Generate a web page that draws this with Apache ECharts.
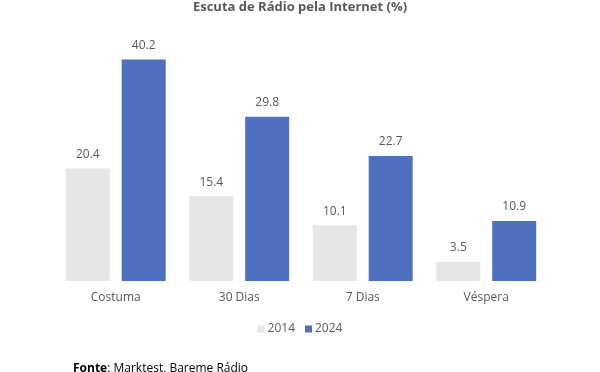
<!DOCTYPE html>
<html><head><meta charset="utf-8">
<script src="https://cdn.jsdelivr.net/npm/echarts@6/dist/echarts.min.js"></script>
<style>html,body{margin:0;padding:0;background:#fff}#c{width:600px;height:372px}</style>
</head><body><div id="c"></div>
<script>
const categories = ['Costuma', '30 Dias', '7 Dias', 'Véspera'];
const values2014 = [20.4, 15.4, 10.1, 3.5];
const values2024 = [40.2, 29.8, 22.7, 10.9];
const seriesNames = ['2014', '2024'];
const titleText = 'Escuta de Rádio pela Internet (%)';

const chart = echarts.init(document.getElementById('c'), null, {renderer: 'canvas'});
const font = 'Open Sans, Liberation Sans, sans-serif';
const txt = '#595959';
chart.setOption({
  animation: false,
  backgroundColor: '#fff',
  title: {
    text: titleText, left: 'center', top: -4,
    textStyle: {fontFamily: font, fontSize: 13, fontWeight: 'bold', color: txt}
  },
  legend: {
    data: seriesNames, left: 'center', top: 318,
    itemWidth: 7, itemHeight: 7, itemGap: 10, icon: 'rect',
    textStyle: {fontFamily: font, fontSize: 12, color: txt, padding: [0, 0, 0, -2]}
  },
  grid: {left: 54, right: 52, top: 33, bottom: 91},
  xAxis: {
    type: 'category', data: categories,
    axisLine: {show: false}, axisTick: {show: false},
    axisLabel: {fontFamily: font, fontSize: 12, color: txt, margin: 11}
  },
  yAxis: {type: 'value', min: 0, max: 45, show: false, splitLine: {show: false}},
  series: [
    {name: seriesNames[0], type: 'bar', data: values2014, barWidth: 44, barGap: '27%',
     itemStyle: {color: '#E7E6E6'},
     label: {show: true, position: 'top', distance: 8, fontFamily: font, fontSize: 12, color: txt}},
    {name: seriesNames[1], type: 'bar', data: values2024, barWidth: 44,
     itemStyle: {color: '#4E70BE'},
     label: {show: true, position: 'top', distance: 8, fontFamily: font, fontSize: 12, color: txt}}
  ],
  graphic: [{
    type: 'text', left: 73, top: 363,
    style: {
      text: '{b|Fonte}: Marktest, Bareme Rádio',
      fontFamily: font, fontSize: 12, fill: '#000',
      rich: {b: {fontWeight: 'bold', fontFamily: font, fontSize: 12, fill: '#000'}}
    }
  }]
});
</script></body></html>
